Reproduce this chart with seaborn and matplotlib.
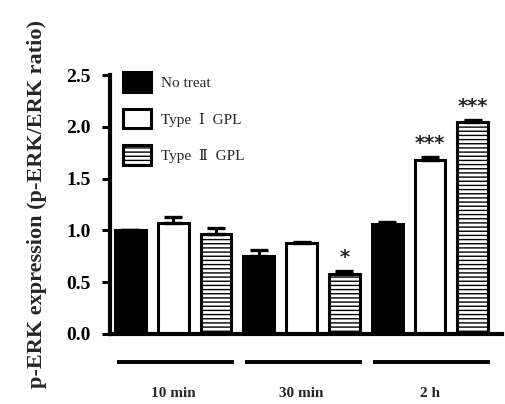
import matplotlib
matplotlib.use("Agg")
import matplotlib.pyplot as plt
import matplotlib.transforms as mtransforms
import numpy as np
import pandas as pd
import seaborn as sns

# ---- data ----
times = ["10 min", "30 min", "2 h"]
treats = ["No treat", "Type  \u2160  GPL", "Type  \u2161  GPL"]
no_treat = [1.00, 0.75, 1.065]
no_treat_err = [0.0, 0.058, 0.012]
type1 = [1.075, 0.875, 1.675]
type1_err = [0.05, 0.012, 0.03]
type2 = [0.965, 0.575, 2.045]
type2_err = [0.06, 0.03, 0.018]
type2_sig = ["", "*", "***"]
type1_sig = ["", "", "***"]
no_treat_sig = ["", "", ""]
yticks = [0.0, 0.5, 1.0, 1.5, 2.0, 2.5]
ylabel = "p-ERK expression (p-ERK/ERK ratio)"

sns.set_style("ticks")
plt.rcParams["font.family"] = ["Liberation Serif", "DejaVu Serif", "DejaVu Sans", "Noto Sans CJK KR"]
plt.rcParams["hatch.linewidth"] = 1.0
plt.rcParams["hatch.color"] = "black"

df = pd.DataFrame({
    "time": times * 3,
    "treat": [treats[0]] * 3 + [treats[1]] * 3 + [treats[2]] * 3,
    "value": no_treat + type1 + type2,
})

fig = plt.figure(figsize=(5.06, 4.04), dpi=100)
ax = fig.add_axes([110 / 506, 1 - 334 / 404, (502 - 110) / 506, (334 - 75) / 404])

sns.barplot(data=df, x="time", y="value", hue="treat", order=times, hue_order=treats,
            palette=["black", "white", "white"], width=1.0, gap=0.28,
            edgecolor="black", linewidth=2.2, errorbar=None, legend=False, ax=ax,
            saturation=1)

for bar in ax.containers[2]:
    bar.set_hatch("----")

errs = [no_treat_err, type1_err, type2_err]
vals = [no_treat, type1, type2]
sigs = [no_treat_sig, type1_sig, type2_sig]
for cont, v, e, s in zip(ax.containers, vals, errs, sigs):
    xs = [p.get_x() + p.get_width() / 2 for p in cont.patches]
    ax.errorbar(xs, v, yerr=[np.zeros(len(v)), e], fmt="none", ecolor="black",
                elinewidth=2.2, capsize=6.5, capthick=2.4, zorder=3)
    for x, vv, ee, ss in zip(xs, v, e, s):
        if ss:
            ax.annotate(ss, (x, vv + ee), xytext=(0, 3), textcoords="offset points",
                        ha="center", va="bottom", fontsize=14, fontweight="bold",
                        family=["DejaVu Sans"])

ax.set_ylim(0, 2.5)
ax.set_xlim(-0.492, 2.561)
ax.set_yticks(yticks)
ax.set_yticklabels([f"{t:.1f}" for t in yticks], fontsize=14, fontweight="bold")
ax.set_ylabel(ylabel, fontsize=16, fontweight="bold", labelpad=14)
ax.set_xlabel("")
ax.set_xticks(range(len(times)))
ax.set_xticklabels(times, fontsize=11, fontweight="bold")
ax.tick_params(axis="x", length=0, pad=38)
ax.tick_params(axis="y", length=5.5, width=2.2, direction="out", pad=8.5, colors="black")

for side in ["top", "right"]:
    ax.spines[side].set_visible(False)
ax.spines["left"].set_linewidth(3)
ax.spines["bottom"].set_linewidth(3)
ax.spines["left"].set_color("black")
ax.spines["bottom"].set_color("black")

# group lines below axis
trans = mtransforms.blended_transform_factory(ax.transData, ax.transAxes)
for i in range(len(times)):
    ax.plot([i - 0.44, i + 0.47], [-0.108, -0.108], color="black", lw=2.8,
            transform=trans, clip_on=False, solid_capstyle="butt")

ax.legend(handles=ax.containers[:3], labels=treats, loc="upper left",
          bbox_to_anchor=(123 / 506, 1 - 72 / 404), bbox_transform=fig.transFigure,
          frameon=False, borderpad=0, borderaxespad=0, fontsize=11,
          handlelength=1.83, handleheight=1.6, handletextpad=0.65, labelspacing=1.12)

fig.savefig("out.png", dpi=100)
